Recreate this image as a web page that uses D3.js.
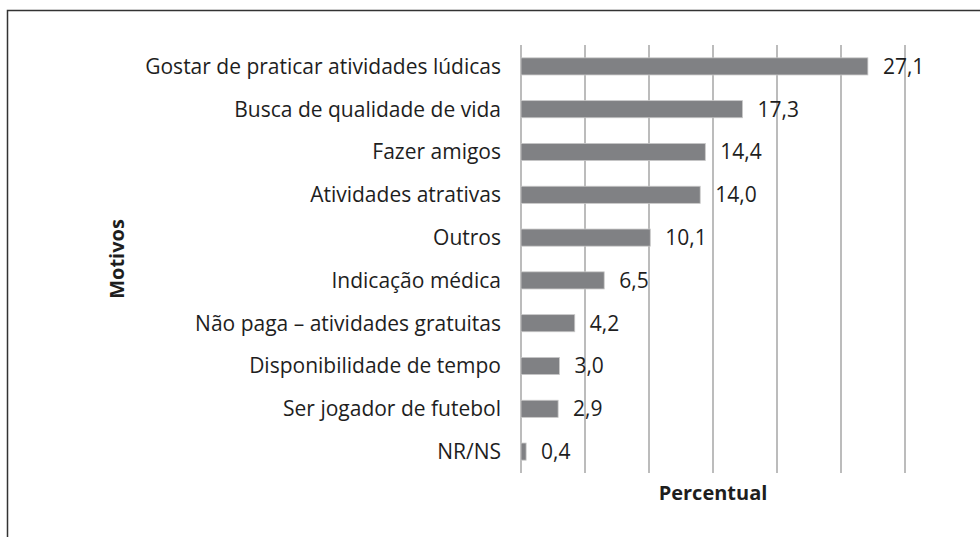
<!DOCTYPE html>
<html><head><meta charset="utf-8">
<script src="https://cdn.jsdelivr.net/npm/d3@7"></script>
<style>body{margin:0;background:#fff;} text{font-family:"Open Sans",sans-serif;fill:#1e1e1e;}</style>
</head><body>
<svg id="c" width="980" height="537"></svg>
<script>
const categories = ["Gostar de praticar atividades lúdicas","Busca de qualidade de vida","Fazer amigos","Atividades atrativas","Outros","Indicação médica","Não paga – atividades gratuitas","Disponibilidade de tempo","Ser jogador de futebol","NR/NS"];
const values = [27.1,17.3,14.4,14.0,10.1,6.5,4.2,3.0,2.9,0.4];
const xTicks = [0,5,10,15,20,25,30];

const svg = d3.select("#c");
// frame
svg.append("path").attr("d","M7.5,537 V10.5 H980").attr("fill","none").attr("stroke","#333").attr("stroke-width",1.5);

const x = d3.scaleLinear().domain([0,30]).range([521,905]);
const y = d3.scaleBand().domain(categories).range([45,473]).paddingInner(0.6).paddingOuter(0.3);

svg.append("g").selectAll("line").data(xTicks).join("line")
  .attr("x1",d=>x(d)).attr("x2",d=>x(d)).attr("y1",45).attr("y2",473)
  .attr("stroke","#a6a6a6").attr("stroke-width",1.5);

svg.append("g").selectAll("rect").data(values).join("rect")
  .attr("x",x(0)).attr("y",(d,i)=>y(categories[i]))
  .attr("width",d=>x(d)-x(0)).attr("height",y.bandwidth())
  .attr("fill","#808184").attr("stroke","#c8c8c8").attr("stroke-width",0.8);

svg.append("g").selectAll("text").data(values).join("text")
  .attr("x",d=>x(d)+15).attr("y",(d,i)=>y(categories[i])+y.bandwidth()/2)
  .attr("dy","0.35em").attr("font-size",21)
  .text(d=>d.toFixed(1).replace(".",","));

svg.append("g").selectAll("text").data(categories).join("text")
  .attr("x",501).attr("y",d=>y(d)+y.bandwidth()/2)
  .attr("dy","0.35em").attr("text-anchor","end").attr("font-size",21)
  .attr("textLength",null)
  .text(d=>d);

svg.append("text").attr("transform","translate(124,259) rotate(-90)")
  .attr("text-anchor","middle").attr("font-weight","bold").attr("font-size",20).text("Motivos");
svg.append("text").attr("x",713).attr("y",500)
  .attr("text-anchor","middle").attr("font-weight","bold").attr("font-size",20).text("Percentual");
</script>
</body></html>
